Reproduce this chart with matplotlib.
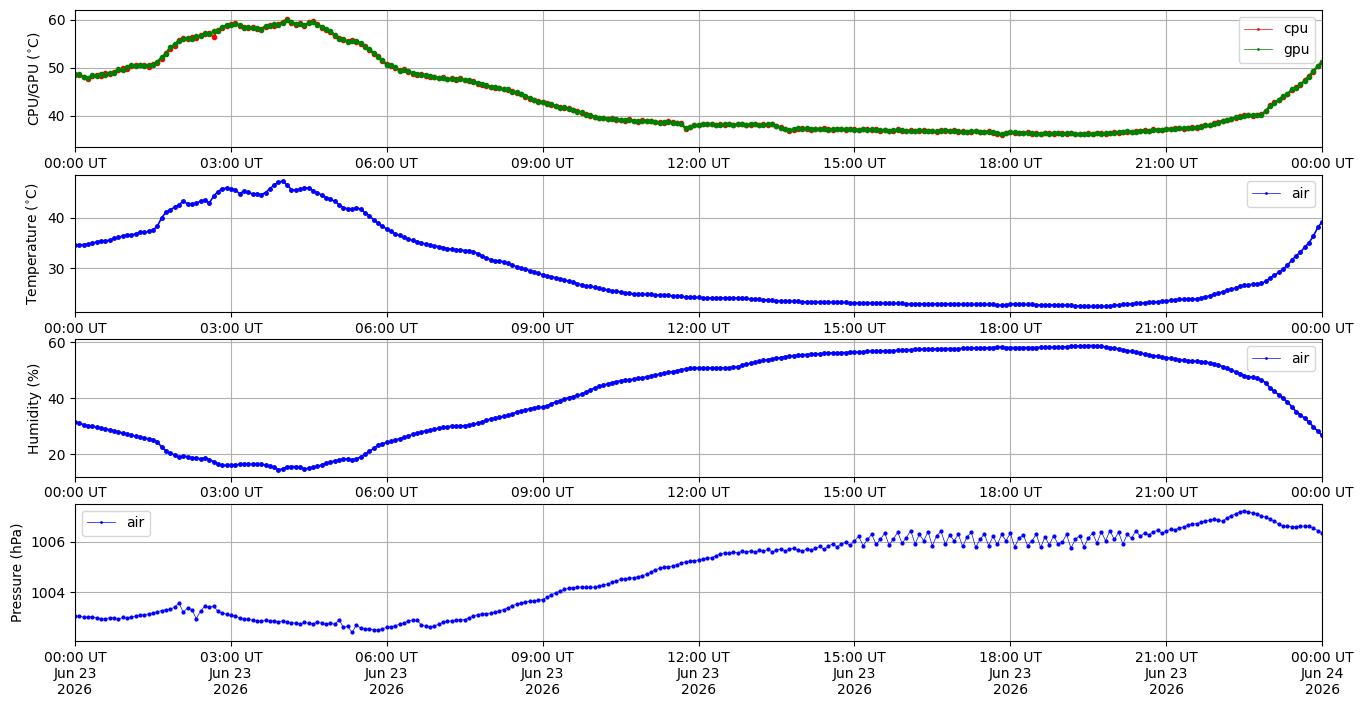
import numpy as np
import pandas as pd
import matplotlib
matplotlib.use("Agg")
import matplotlib.pyplot as plt
import matplotlib.dates as mdates
from matplotlib.ticker import MultipleLocator

# readings every 5 minutes, 2026-06-23 00:00 .. 2026-06-24 00:00
start = "2026-06-23 00:00"
end = "2026-06-24 00:00"

cpu = [
    48.8, 48.5, 48.2, 47.6, 48.3, 48.6, 48.4, 48.9, 48.7, 49.2, 49.5, 49.9,
    49.8, 50.3, 50.7, 50.5, 50.6, 50.2, 50.8, 51.1, 51.8, 53.2, 54.0, 54.6,
    55.9, 56.2, 56.0, 56.4, 56.3, 56.8, 57.1, 57.3, 56.5, 58.0, 58.3, 58.7,
    59.2, 59.3, 58.8, 58.6, 58.3, 58.5, 58.1, 58.2, 58.6, 59.0, 58.8, 59.2,
    59.6, 60.2, 59.4, 59.0, 59.3, 58.8, 59.5, 59.7, 59.2, 58.4, 58.0, 57.5,
    56.6, 56.2, 55.8, 55.6, 55.9, 55.4, 55.0, 54.6, 53.8, 52.9, 52.4, 51.4,
    50.8, 50.3, 49.9, 49.6, 49.8, 49.2, 48.8, 48.6, 48.7, 48.4, 48.1, 48.2,
    47.8, 48.0, 47.6, 47.8, 47.5, 47.9, 47.4, 47.2, 47.3, 46.7, 46.5, 46.3,
    46.0, 45.9, 45.7, 45.6, 45.4, 45.2, 44.8, 44.5, 44.0, 43.5, 43.2, 43.0,
    42.8, 42.6, 42.3, 42.0, 41.8, 41.7, 41.6, 41.2, 40.9, 40.6, 40.3, 40.0,
    39.7, 39.6, 39.5, 39.4, 39.5, 39.2, 39.2, 39.0, 39.3, 39.0, 38.8, 39.1,
    39.0, 38.9, 38.7, 38.7, 38.6, 38.9, 38.7, 38.5, 38.4, 37.3, 37.6, 38.0,
    38.0, 38.3, 38.2, 38.3, 38.0, 38.2, 38.1, 38.3, 38.0, 38.3, 38.2, 38.0,
    38.1, 38.3, 38.0, 38.2, 38.1, 38.3, 37.8, 37.6, 37.2, 36.9, 37.1, 37.3,
    37.4, 37.3, 37.1, 37.3, 37.2, 37.4, 37.2, 37.0, 37.3, 37.2, 37.1, 37.3,
    37.2, 37.0, 37.3, 37.2, 37.1, 37.2, 36.9, 37.1, 36.8, 36.9, 37.2, 36.9,
    36.9, 37.0, 36.8, 36.9, 37.1, 36.8, 36.9, 36.7, 37.0, 36.9, 36.8, 37.0,
    36.7, 36.8, 36.6, 36.7, 36.9, 36.6, 36.6, 36.8, 36.5, 36.3, 36.0, 36.4,
    36.7, 36.5, 36.4, 36.4, 36.6, 36.3, 36.4, 36.2, 36.5, 36.4, 36.3, 36.5,
    36.4, 36.3, 36.5, 36.2, 36.1, 36.3, 36.4, 36.2, 36.5, 36.4, 36.3, 36.5,
    36.6, 36.5, 36.7, 36.7, 36.6, 36.8, 36.9, 37.0, 36.8, 37.2, 37.1, 37.0,
    37.3, 37.2, 37.4, 37.4, 37.3, 37.5, 37.6, 37.5, 37.8, 38.1, 38.0, 38.4,
    38.7, 38.9, 39.1, 39.4, 39.6, 39.9, 40.1, 40.2, 40.0, 40.1, 40.3, 41.0,
    42.2, 42.8, 43.3, 43.9, 44.6, 45.3, 46.0, 46.5, 47.4, 48.4, 49.2, 50.3,
    51.3,
]

gpu = [
    48.6, 48.7, 48.0, 47.9, 48.5, 48.4, 48.8, 48.6, 49.0, 49.0, 49.7, 49.6,
    50.1, 50.5, 50.4, 50.7, 50.4, 50.5, 50.6, 51.3, 52.2, 53.0, 54.3, 54.9,
    55.6, 56.0, 56.3, 56.1, 56.6, 56.6, 57.3, 57.0, 57.6, 57.8, 58.5, 58.9,
    59.0, 59.1, 59.0, 58.4, 58.5, 58.3, 58.4, 58.0, 58.8, 58.8, 59.1, 59.0,
    59.4, 59.9, 59.6, 59.2, 59.1, 59.0, 59.3, 59.5, 59.0, 58.6, 58.2, 57.8,
    56.8, 56.0, 56.0, 55.4, 55.7, 55.6, 55.2, 54.4, 54.0, 53.1, 52.2, 51.6,
    50.6, 50.5, 50.1, 49.4, 49.6, 49.4, 48.9, 48.8, 48.5, 48.6, 48.3, 48.0,
    47.9, 47.8, 47.7, 47.6, 47.7, 47.6, 47.5, 47.4, 47.1, 46.9, 46.6, 46.4,
    46.1, 46.0, 45.8, 45.5, 45.5, 45.0, 44.9, 44.6, 44.2, 43.7, 43.3, 42.9,
    42.9, 42.5, 42.4, 42.1, 41.7, 41.8, 41.5, 41.3, 40.8, 40.7, 40.2, 40.1,
    39.8, 39.5, 39.6, 39.3, 39.4, 39.3, 39.1, 39.1, 39.2, 38.9, 38.9, 39.0,
    38.9, 39.0, 38.8, 38.6, 38.7, 38.8, 38.6, 38.6, 38.3, 37.5, 37.7, 38.1,
    38.1, 38.2, 38.3, 38.2, 38.1, 38.1, 38.2, 38.2, 38.1, 38.2, 38.3, 38.1,
    38.2, 38.2, 38.1, 38.1, 38.2, 38.2, 37.9, 37.5, 37.3, 37.0, 37.2, 37.4,
    37.3, 37.4, 37.2, 37.2, 37.3, 37.3, 37.1, 37.2, 37.2, 37.3, 37.2, 37.2,
    37.1, 37.1, 37.2, 37.1, 37.2, 37.0, 37.0, 37.0, 36.9, 37.0, 37.1, 37.0,
    36.8, 36.9, 36.9, 37.0, 36.9, 36.9, 36.8, 36.8, 36.9, 37.0, 36.9, 36.9,
    36.8, 36.7, 36.7, 36.8, 36.8, 36.7, 36.7, 36.7, 36.6, 36.4, 36.2, 36.5,
    36.6, 36.6, 36.5, 36.5, 36.5, 36.4, 36.3, 36.3, 36.4, 36.3, 36.4, 36.4,
    36.3, 36.4, 36.4, 36.3, 36.2, 36.2, 36.3, 36.3, 36.4, 36.3, 36.4, 36.4,
    36.5, 36.6, 36.6, 36.8, 36.7, 36.7, 36.8, 36.9, 36.9, 37.1, 37.0, 37.1,
    37.2, 37.3, 37.3, 37.5, 37.4, 37.4, 37.5, 37.6, 37.7, 38.0, 38.1, 38.3,
    38.6, 39.0, 39.2, 39.3, 39.7, 39.8, 40.0, 40.1, 40.1, 40.2, 40.2, 40.9,
    42.0, 42.6, 43.4, 44.1, 44.5, 45.5, 45.9, 46.6, 47.3, 48.2, 49.4, 50.4,
    51.2,
]

air_temp = [
    34.6, 34.6, 34.7, 34.8, 35.0, 35.2, 35.4, 35.4, 35.6, 35.9, 36.1, 36.4,
    36.6, 36.6, 36.8, 37.1, 37.1, 37.3, 37.6, 38.3, 40.0, 41.1, 41.6, 42.1,
    42.6, 43.3, 42.8, 42.7, 42.9, 43.3, 43.5, 42.9, 44.3, 45.2, 45.8, 45.9,
    45.7, 45.6, 44.8, 45.3, 45.1, 44.7, 44.8, 44.6, 45.0, 45.8, 46.5, 47.1,
    47.3, 46.5, 45.6, 45.5, 45.7, 46.0, 45.9, 45.4, 45.0, 44.5, 44.0, 43.7,
    43.3, 42.6, 42.0, 41.8, 41.7, 42.0, 41.7, 41.0, 40.4, 39.6, 38.9, 38.3,
    37.8, 37.3, 36.8, 36.5, 36.1, 35.8, 35.5, 35.3, 35.0, 34.8, 34.6, 34.4,
    34.3, 34.1, 33.9, 33.8, 33.7, 33.6, 33.5, 33.5, 33.3, 32.9, 32.4, 32.0,
    31.7, 31.5, 31.4, 31.3, 31.0, 30.6, 30.3, 30.0, 29.8, 29.5, 29.3, 29.0,
    28.7, 28.5, 28.3, 28.1, 27.9, 27.7, 27.4, 27.2, 26.9, 26.7, 26.5, 26.4,
    26.2, 26.0, 25.8, 25.7, 25.5, 25.4, 25.3, 25.1, 25.0, 24.9, 24.9, 24.8,
    24.8, 24.8, 24.7, 24.7, 24.6, 24.6, 24.5, 24.5, 24.4, 24.3, 24.3, 24.2,
    24.2, 24.1, 24.1, 24.1, 24.1, 24.1, 24.1, 24.1, 24.1, 24.0, 24.0, 24.0,
    23.9, 23.9, 23.8, 23.7, 23.7, 23.6, 23.5, 23.5, 23.5, 23.5, 23.4, 23.4,
    23.3, 23.3, 23.3, 23.3, 23.3, 23.3, 23.3, 23.2, 23.2, 23.2, 23.2, 23.1,
    23.1, 23.1, 23.1, 23.1, 23.1, 23.1, 23.1, 23.0, 23.0, 23.0, 23.0, 23.0,
    22.9, 22.9, 22.9, 22.9, 22.9, 22.9, 22.9, 22.9, 22.9, 22.9, 22.9, 22.9,
    22.9, 22.8, 22.8, 22.8, 22.8, 22.8, 22.8, 22.8, 22.8, 22.7, 22.6, 22.7,
    22.9, 22.9, 22.8, 22.8, 22.8, 22.8, 22.7, 22.7, 22.7, 22.7, 22.7, 22.7,
    22.7, 22.6, 22.6, 22.5, 22.5, 22.4, 22.4, 22.4, 22.4, 22.4, 22.4, 22.5,
    22.6, 22.7, 22.8, 22.9, 22.9, 23.0, 23.1, 23.1, 23.2, 23.3, 23.3, 23.4,
    23.5, 23.6, 23.7, 23.8, 23.8, 23.9, 23.9, 23.9, 24.1, 24.3, 24.5, 24.8,
    25.0, 25.3, 25.6, 25.8, 26.1, 26.4, 26.6, 26.7, 26.8, 26.9, 27.0, 27.4,
    28.1, 28.6, 29.2, 29.8, 30.6, 31.6, 32.5, 33.2, 34.2, 35.1, 36.4, 38.1,
    39.2,
]

air_hum = [
    31.4, 31.0, 30.6, 30.2, 30.0, 29.6, 29.3, 29.1, 28.7, 28.3, 28.0, 27.6,
    27.1, 26.8, 26.5, 26.1, 25.8, 25.5, 25.2, 24.4, 22.6, 21.2, 20.3, 19.8,
    19.0, 19.4, 19.1, 18.8, 18.6, 18.4, 18.6, 18.1, 17.4, 16.6, 16.0, 16.0,
    16.0, 16.2, 16.4, 16.4, 16.5, 16.4, 16.4, 16.5, 16.1, 15.8, 15.3, 14.4,
    14.8, 15.5, 15.6, 15.6, 15.3, 14.8, 15.0, 15.4, 15.7, 16.2, 16.8, 17.3,
    17.6, 17.9, 18.3, 18.3, 18.0, 18.4, 19.0, 20.0, 21.0, 22.1, 23.2, 23.8,
    24.2, 24.6, 25.1, 25.5, 26.0, 26.5, 27.1, 27.5, 28.0, 28.3, 28.7, 29.0,
    29.3, 29.6, 29.8, 30.0, 30.0, 30.1, 30.2, 30.4, 30.7, 31.0, 31.6, 32.1,
    32.6, 32.9, 33.2, 33.5, 33.9, 34.4, 35.0, 35.4, 35.8, 36.2, 36.6, 36.7,
    36.8, 37.3, 38.0, 38.6, 39.1, 39.7, 40.2, 40.6, 41.0, 41.4, 42.1, 42.9,
    43.6, 44.2, 44.7, 45.1, 45.5, 45.9, 46.2, 46.4, 46.6, 46.8, 47.1, 47.3,
    47.6, 47.9, 48.3, 48.6, 48.9, 49.2, 49.5, 49.8, 50.2, 50.5, 50.7, 50.8,
    50.8, 50.8, 50.8, 50.8, 50.8, 50.8, 50.8, 50.9, 51.0, 51.3, 51.7, 52.1,
    52.5, 52.8, 53.2, 53.5, 53.8, 54.0, 54.3, 54.5, 54.8, 55.0, 55.2, 55.3,
    55.5, 55.6, 55.7, 55.8, 55.9, 56.0, 56.1, 56.2, 56.2, 56.3, 56.3, 56.4,
    56.4, 56.5, 56.6, 56.7, 56.7, 56.8, 56.9, 56.9, 57.0, 57.0, 57.1, 57.2,
    57.3, 57.3, 57.4, 57.5, 57.5, 57.6, 57.6, 57.6, 57.7, 57.7, 57.7, 57.7,
    57.7, 57.8, 57.8, 57.9, 57.9, 58.0, 58.0, 58.0, 58.1, 58.2, 58.2, 58.1,
    58.1, 58.1, 58.1, 58.1, 58.1, 58.1, 58.1, 58.2, 58.2, 58.2, 58.2, 58.3,
    58.3, 58.4, 58.5, 58.6, 58.6, 58.7, 58.8, 58.8, 58.7, 58.5, 58.3, 58.1,
    57.9, 57.6, 57.3, 57.0, 56.7, 56.4, 56.1, 55.8, 55.5, 55.2, 55.0, 54.7,
    54.5, 54.2, 54.0, 53.7, 53.6, 53.4, 53.3, 53.2, 53.1, 52.9, 52.6, 52.3,
    51.9, 51.3, 50.7, 50.1, 49.4, 48.8, 48.1, 47.7, 47.4, 47.1, 46.5, 45.5,
    43.6, 42.4, 41.2, 40.0, 38.6, 37.0, 35.2, 34.1, 32.8, 31.4, 29.8, 28.2,
    26.7,
]

air_pres = [
    1003.04, 1003.06, 1003.00, 1003.01, 1003.03, 1002.97, 1002.95, 1002.93, 1002.99, 1002.97, 1002.92, 1003.00,
    1002.97, 1003.01, 1003.05, 1003.08, 1003.10, 1003.14, 1003.17, 1003.22, 1003.27, 1003.31, 1003.33, 1003.40,
    1003.58, 1003.20, 1003.38, 1003.31, 1002.95, 1003.25, 1003.44, 1003.40, 1003.45, 1003.24, 1003.18, 1003.12,
    1003.08, 1003.06, 1002.98, 1002.95, 1002.92, 1002.89, 1002.87, 1002.85, 1002.88, 1002.84, 1002.86, 1002.81,
    1002.87, 1002.83, 1002.79, 1002.77, 1002.74, 1002.80, 1002.77, 1002.75, 1002.81, 1002.77, 1002.72, 1002.76,
    1002.73, 1002.90, 1002.60, 1002.64, 1002.40, 1002.70, 1002.57, 1002.55, 1002.52, 1002.51, 1002.49, 1002.55,
    1002.60, 1002.63, 1002.67, 1002.73, 1002.78, 1002.85, 1002.91, 1002.88, 1002.70, 1002.64, 1002.62, 1002.66,
    1002.73, 1002.80, 1002.84, 1002.87, 1002.89, 1002.90, 1002.91, 1002.98, 1003.05, 1003.11, 1003.14, 1003.15,
    1003.17, 1003.20, 1003.26, 1003.31, 1003.38, 1003.46, 1003.53, 1003.57, 1003.61, 1003.64, 1003.66, 1003.68,
    1003.71, 1003.80, 1003.90, 1003.97, 1004.05, 1004.11, 1004.15, 1004.18, 1004.20, 1004.20, 1004.19, 1004.20,
    1004.20, 1004.24, 1004.29, 1004.33, 1004.39, 1004.45, 1004.51, 1004.54, 1004.56, 1004.57, 1004.62, 1004.66,
    1004.71, 1004.80, 1004.89, 1004.95, 1004.99, 1005.02, 1005.04, 1005.10, 1005.15, 1005.21, 1005.24, 1005.26,
    1005.28, 1005.33, 1005.36, 1005.37, 1005.45, 1005.52, 1005.57, 1005.55, 1005.60, 1005.57, 1005.62, 1005.60,
    1005.64, 1005.60, 1005.66, 1005.64, 1005.70, 1005.61, 1005.67, 1005.72, 1005.65, 1005.71, 1005.75, 1005.68,
    1005.64, 1005.72, 1005.68, 1005.75, 1005.82, 1005.70, 1005.84, 1005.92, 1005.80, 1005.93, 1005.98, 1005.86,
    1006.04, 1006.22, 1005.85, 1006.10, 1006.30, 1005.90, 1006.11, 1006.35, 1005.88, 1006.12, 1006.38, 1005.95,
    1006.17, 1006.45, 1005.92, 1006.30, 1006.05, 1006.40, 1005.85, 1006.25, 1006.42, 1005.90, 1006.28, 1006.05,
    1006.30, 1005.82, 1006.20, 1006.38, 1005.78, 1006.10, 1006.32, 1005.85, 1006.22, 1005.90, 1006.30, 1006.05,
    1006.35, 1005.80, 1006.15, 1006.28, 1005.85, 1006.05, 1006.30, 1005.78, 1006.20, 1005.88, 1006.25, 1005.92,
    1006.00, 1006.30, 1005.75, 1006.10, 1006.25, 1005.80, 1006.15, 1006.35, 1005.95, 1006.40, 1006.05, 1006.45,
    1006.10, 1006.38, 1005.92, 1006.30, 1006.15, 1006.45, 1006.22, 1006.35, 1006.28, 1006.40, 1006.46, 1006.35,
    1006.44, 1006.50, 1006.48, 1006.56, 1006.60, 1006.66, 1006.70, 1006.73, 1006.78, 1006.83, 1006.87, 1006.90,
    1006.87, 1006.82, 1006.95, 1007.04, 1007.12, 1007.20, 1007.24, 1007.20, 1007.14, 1007.11, 1007.04, 1006.98,
    1006.91, 1006.82, 1006.70, 1006.64, 1006.62, 1006.60, 1006.60, 1006.62, 1006.64, 1006.62, 1006.55, 1006.45,
    1006.37,
]

t = pd.date_range(start, end, freq="5min")

style = dict(marker=".", markersize=5, linewidth=1.2)

fig, axes = plt.subplots(4, 1, figsize=(13.63, 7.07), dpi=100)
fig.subplots_adjust(left=0.055, right=0.970, top=0.986, bottom=0.093, hspace=0.197)

ax = axes[0]
ax.plot(t, cpu, color="red", label="cpu", marker=".", markersize=6, linewidth=1.5)
ax.plot(t, gpu, color="green", label="gpu", marker=".", markersize=6, linewidth=1.5)
ax.set_ylabel("CPU/GPU ($^{\\circ}$C)")
ax.set_ylim(33.4, 62.1)
ax.yaxis.set_major_locator(MultipleLocator(10))

ax = axes[1]
ax.plot(t, air_temp, color="blue", label="air", **style)
ax.set_ylabel("Temperature ($^{\\circ}$C)")
ax.set_ylim(21.3, 48.6)
ax.yaxis.set_major_locator(MultipleLocator(10))

ax = axes[2]
ax.plot(t, air_hum, color="blue", label="air", **style)
ax.set_ylabel("Humidity (%)")
ax.set_ylim(12.0, 61.1)
ax.yaxis.set_major_locator(MultipleLocator(20))

ax = axes[3]
ax.plot(t, air_pres, color="blue", label="air", marker=".", markersize=4, linewidth=0.5)
ax.set_ylabel("Pressure (hPa)")
ax.set_ylim(1002.05, 1007.52)
ax.yaxis.set_major_locator(MultipleLocator(2))
ax.ticklabel_format(axis="y", useOffset=False)

for i, ax in enumerate(axes):
    ax.set_xlim(pd.Timestamp(start), pd.Timestamp(end))
    ax.xaxis.set_major_locator(mdates.HourLocator(byhour=range(0, 24, 3)))
    if i == 3:
        ax.xaxis.set_major_formatter(mdates.DateFormatter("%H:%M UT\n%b %d\n%Y"))
    else:
        ax.xaxis.set_major_formatter(mdates.DateFormatter("%H:%M UT"))
    ax.grid(True)
    # thin legend lines like the original
    leg = ax.legend(loc="upper left" if i == 3 else "upper right")
    for line in leg.get_lines():
        line.set_linewidth(0.5)
        line.set_markersize(2)

fig.savefig("out.png")
